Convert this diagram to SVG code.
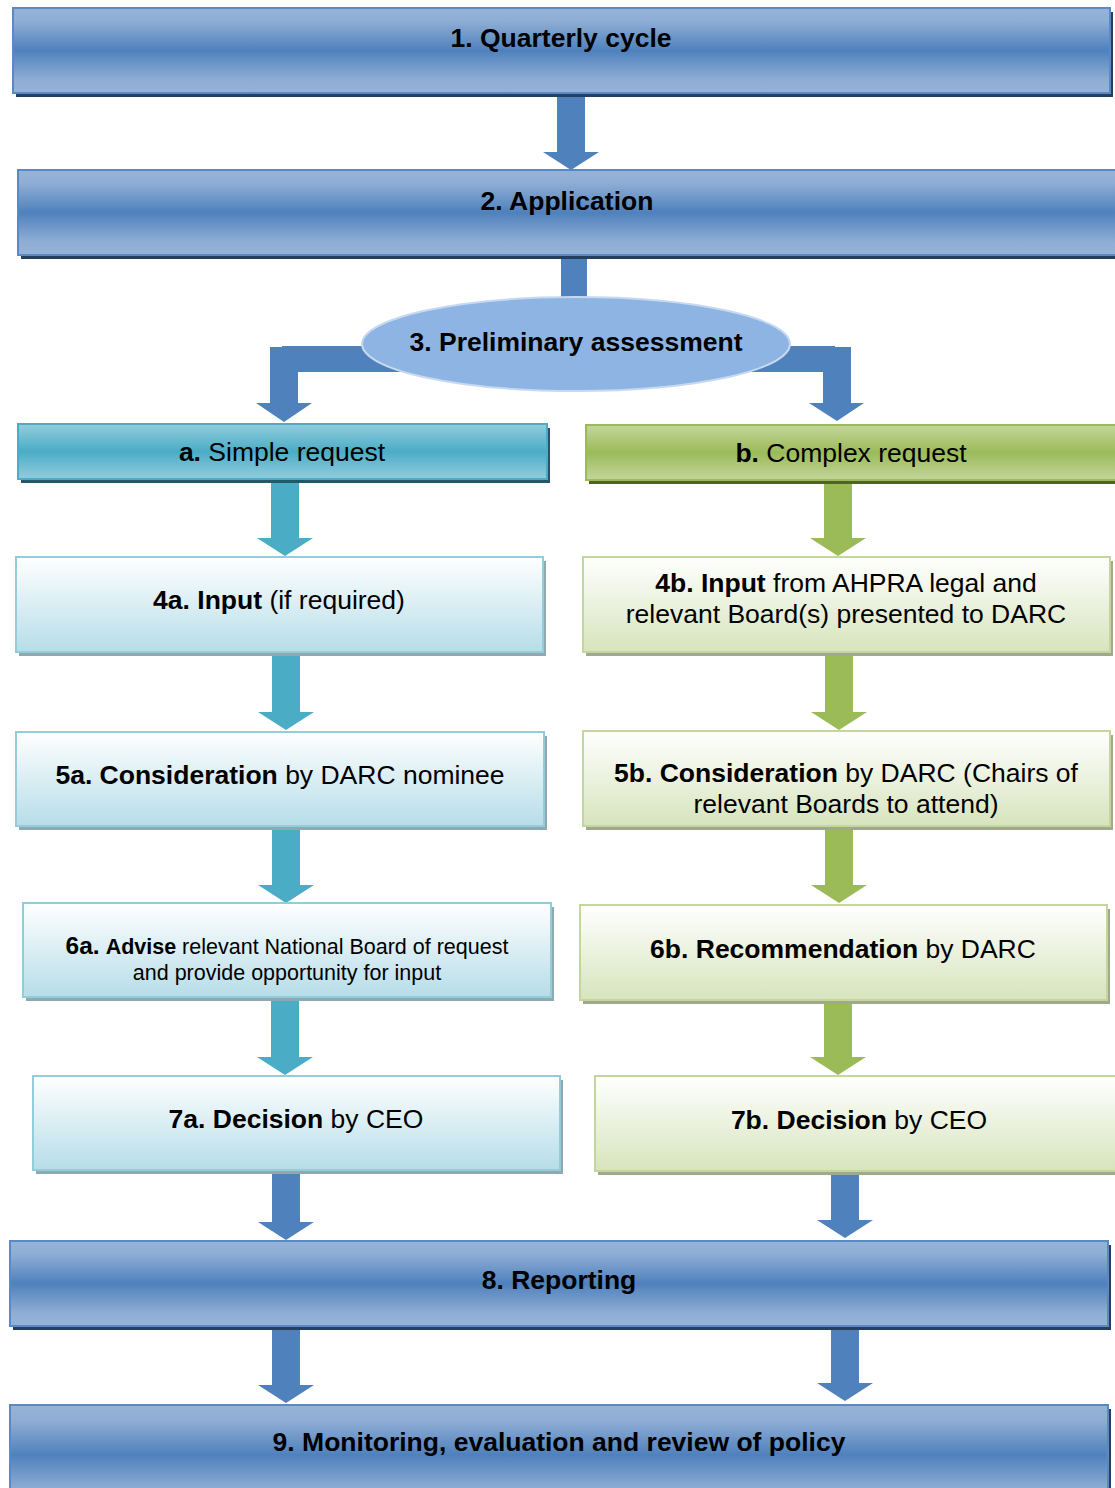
<svg xmlns="http://www.w3.org/2000/svg" width="1115" height="1488" viewBox="0 0 1115 1488">
<defs>
<linearGradient id="gBlue" x1="0" y1="0" x2="0" y2="1"><stop offset="0" stop-color="#95B3D7"/><stop offset="0.15" stop-color="#8FAED5"/><stop offset="0.5" stop-color="#4F81BD"/><stop offset="0.85" stop-color="#8FAED5"/><stop offset="1" stop-color="#95B3D7"/></linearGradient>
<linearGradient id="gTeal" x1="0" y1="0" x2="0" y2="1"><stop offset="0" stop-color="#93CDDD"/><stop offset="0.5" stop-color="#4BACC6"/><stop offset="1" stop-color="#93CDDD"/></linearGradient>
<linearGradient id="gGreen" x1="0" y1="0" x2="0" y2="1"><stop offset="0" stop-color="#C3D69B"/><stop offset="0.5" stop-color="#9BBB59"/><stop offset="1" stop-color="#C3D69B"/></linearGradient>
<linearGradient id="gLTeal" x1="0" y1="0" x2="0" y2="1"><stop offset="0" stop-color="#FFFFFF"/><stop offset="1" stop-color="#B6DDE8"/></linearGradient>
<linearGradient id="gLGreen" x1="0" y1="0" x2="0" y2="1"><stop offset="0" stop-color="#FFFFFF"/><stop offset="1" stop-color="#D7E4BD"/></linearGradient>
</defs>
<style>
text{font-family:"Liberation Sans",Arial,sans-serif;fill:#000;text-anchor:middle;font-size:26.5px}
.b{font-weight:bold}
.blue{fill:url(#gBlue);stroke:#5A89C4;stroke-width:2}
.blueS{fill:#243F60}
.teal{fill:url(#gTeal);stroke:#4BACC6;stroke-width:2}
.tealS{fill:#215968}
.green{fill:url(#gGreen);stroke:#9BBB59;stroke-width:2}
.greenS{fill:#4F6228}
.lt{fill:url(#gLTeal);stroke:#92CDDC;stroke-width:2}
.ltS{fill:#8EA9B0}
.lg{fill:url(#gLGreen);stroke:#C3D69B;stroke-width:2}
.lgS{fill:#A0A88E}
.aB{fill:#4F81BD}
.aT{fill:#4BACC6}
.aG{fill:#9BBB59}
</style>
<g id="connectors">
<path class="aB" d="M557,97H585V152H599L571,170L543,152H557Z"/>
<rect class="aB" x="561" y="259" width="26" height="45"/>
<path class="aB" d="M440,346H282V347H270V403H256L284,422L312,403H298V372H440Z"/>
<path class="aB" d="M720,346H835V347H851V403H864L837,421L809,403H823V372H720Z"/>
<path class="aT" d="M271,482H299V538H313L285,556L257,538H271Z"/>
<path class="aG" d="M824,483H852V538H866L838,556L810,538H824Z"/>
<path class="aT" d="M272,655H300V712H314L286,730L258,712H272Z"/>
<path class="aG" d="M825,655H853V712H867L839,730L811,712H825Z"/>
<path class="aT" d="M272,829H300V885H314L286,903L258,885H272Z"/>
<path class="aG" d="M825,829H853V885H867L839,903L811,885H825Z"/>
<path class="aT" d="M271,1000H299V1057H313L285,1075L257,1057H271Z"/>
<path class="aG" d="M824,1003H852V1057H866L838,1075L810,1057H824Z"/>
<path class="aB" d="M272,1173H300V1222H314L286,1240L258,1222H272Z"/>
<path class="aB" d="M831,1174H859V1220H873L845,1238L817,1220H831Z"/>
<path class="aB" d="M272,1330H300V1385H314L286,1403L258,1385H272Z"/>
<path class="aB" d="M831,1330H859V1383H873L845,1401L817,1383H831Z"/>
</g>
<g id="n1"><rect class="blueS" x="16" y="12" width="1097" height="85"/><rect class="blue" x="13" y="8" width="1097" height="85"/><text x="561" y="47" class="b">1. Quarterly cycle</text></g>
<g id="n2"><rect class="blueS" x="21" y="174" width="1100" height="85"/><rect class="blue" x="18" y="170" width="1100" height="85"/><text x="567" y="210" class="b">2. Application</text></g>
<g id="n3"><ellipse cx="576" cy="344" rx="214" ry="47" fill="#8EB4E3" stroke="#C6D9F1" stroke-width="2"/><text x="576" y="351" class="b">3. Preliminary assessment</text></g>
<g id="na"><rect class="tealS" x="21" y="428" width="529" height="55"/><rect class="teal" x="18" y="424" width="529" height="55"/><text x="282" y="461"><tspan class="b">a.</tspan> Simple request</text></g>
<g id="nb"><rect class="greenS" x="589" y="429" width="535" height="55"/><rect class="green" x="586" y="425" width="535" height="55"/><text x="851" y="462"><tspan class="b">b.</tspan> Complex request</text></g>
<g id="n4a"><rect class="ltS" x="19" y="561" width="527" height="95"/><rect class="lt" x="16" y="557" width="527" height="95"/><text x="279" y="609"><tspan class="b">4a. Input</tspan> (if required)</text></g>
<g id="n4b"><rect class="lgS" x="586" y="561" width="527" height="95"/><rect class="lg" x="583" y="557" width="527" height="95"/><text x="846" y="592"><tspan class="b">4b. Input</tspan> from AHPRA legal and</text><text x="846" y="623">relevant Board(s) presented to DARC</text></g>
<g id="n5a"><rect class="ltS" x="19" y="736" width="528" height="94"/><rect class="lt" x="16" y="732" width="528" height="94"/><text x="280" y="784"><tspan class="b">5a. Consideration</tspan> by DARC nominee</text></g>
<g id="n5b"><rect class="lgS" x="586" y="735" width="527" height="95"/><rect class="lg" x="583" y="731" width="527" height="95"/><text x="846" y="782"><tspan class="b">5b. Consideration</tspan> by DARC (Chairs of</text><text x="846" y="813">relevant Boards to attend)</text></g>
<g id="n6a"><rect class="ltS" x="26" y="907" width="528" height="94"/><rect class="lt" x="23" y="903" width="528" height="94"/><text x="287" y="954" style="font-size:21.5px"><tspan class="b" style="font-size:24.5px">6a.</tspan> <tspan class="b">Advise</tspan> relevant National Board of request</text><text x="287" y="980" style="font-size:21.5px">and provide opportunity for input</text></g>
<g id="n6b"><rect class="lgS" x="583" y="909" width="527" height="95"/><rect class="lg" x="580" y="905" width="527" height="95"/><text x="843" y="958"><tspan class="b">6b. Recommendation</tspan> by DARC</text></g>
<g id="n7a"><rect class="ltS" x="36" y="1080" width="527" height="94"/><rect class="lt" x="33" y="1076" width="527" height="94"/><text x="296" y="1128"><tspan class="b">7a. Decision</tspan> by CEO</text></g>
<g id="n7b"><rect class="lgS" x="598" y="1080" width="530" height="95"/><rect class="lg" x="595" y="1076" width="530" height="95"/><text x="859" y="1129"><tspan class="b">7b. Decision</tspan> by CEO</text></g>
<g id="n8"><rect class="blueS" x="13" y="1245" width="1098" height="85"/><rect class="blue" x="10" y="1241" width="1098" height="85"/><text x="559" y="1289" class="b">8. Reporting</text></g>
<g id="n9"><rect class="blueS" x="13" y="1409" width="1098" height="100"/><rect class="blue" x="10" y="1405" width="1098" height="100"/><text x="559" y="1451" class="b">9. Monitoring, evaluation and review of policy</text></g>
</svg>
